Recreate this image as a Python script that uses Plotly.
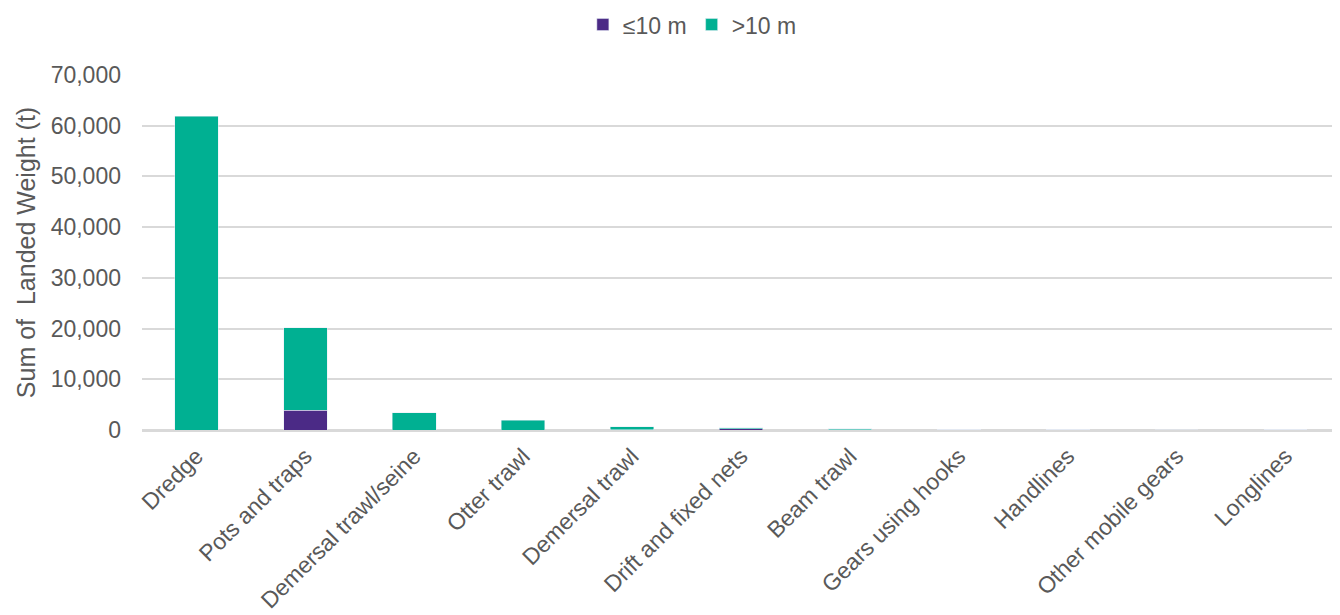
import plotly.graph_objects as go

categories = ["Dredge", "Pots and traps", "Demersal trawl/seine", "Otter trawl",
              "Demersal trawl", "Drift and fixed nets", "Beam trawl",
              "Gears using hooks", "Handlines", "Other mobile gears", "Longlines"]
under10 = [0, 3900, 0, 0, 20, 200, 20, 30, 20, 0, 10]
over10 = [61900, 16300, 3450, 1950, 580, 250, 180, 40, 10, 20, 10]

purple = "#4B2A86"
green = "#00B092"
font_family = "Liberation Sans, Arial, sans-serif"

fig = go.Figure()
fig.add_trace(go.Bar(x=categories, y=under10, name="≤10 m", marker_color=purple))
fig.add_trace(go.Bar(x=categories, y=over10, name=">10 m", marker_color=green))

fig.update_layout(
    barmode="stack",
    bargap=0.6,
    width=1332, height=607,
    margin=dict(l=134, r=0, t=67, b=185, autoexpand=False),
    plot_bgcolor="white", paper_bgcolor="white",
    font=dict(family=font_family, size=23, color="#595959"),
    legend=dict(orientation="h", x=0.368, xanchor="left", y=1.142, yanchor="middle",
                font=dict(size=23, color="#595959"), traceorder="normal",
                itemwidth=30, tracegroupgap=0),
    showlegend=True,
)
fig.update_yaxes(range=[0, 70000], dtick=10000, tickformat=",", gridcolor="#D9D9D9",
                 gridwidth=1.5, zeroline=True, zerolinecolor="#D9D9D9", zerolinewidth=1.5,
                 title=dict(text="Sum of  Landed Weight (t)", font=dict(size=25, color="#595959"), standoff=7),
                 ticks="", showline=False, automargin=False, ticklabelstandoff=20,
                 tickfont=dict(size=23))
fig.update_xaxes(tickangle=-45, showline=True, linecolor="#D9D9D9", linewidth=1.5, ticks="",
                 automargin=False, tickfont=dict(size=23), ticklabelstandoff=2)

fig.write_html("out.html")
